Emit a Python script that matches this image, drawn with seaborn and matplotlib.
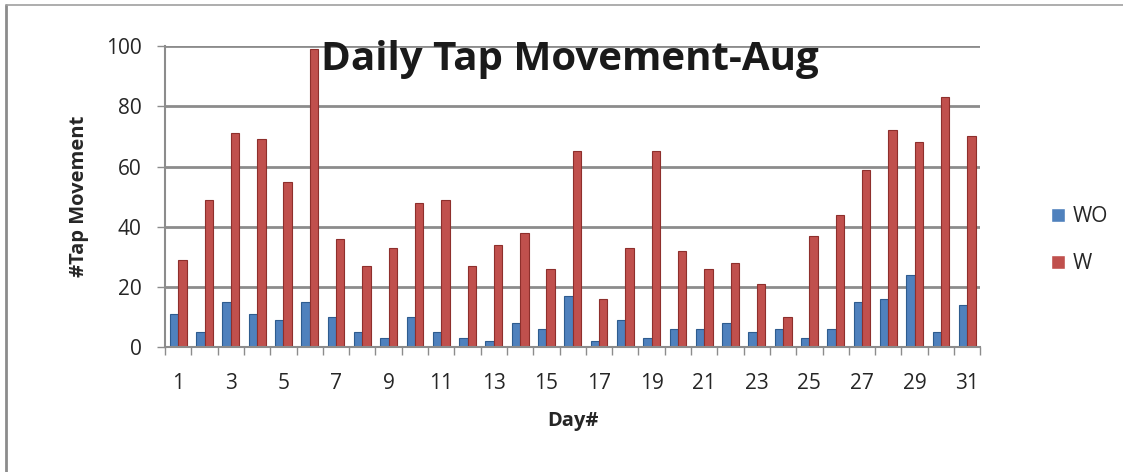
import matplotlib
matplotlib.use("Agg")
import matplotlib.pyplot as plt
from matplotlib.lines import Line2D
import seaborn as sns
import pandas as pd
import numpy as np

days = list(range(1, 32))
wo_values = [11, 5, 15, 11, 9, 15, 10, 5, 3, 10, 5, 3, 2, 8, 6, 17, 2, 9, 3, 6,
             6, 8, 5, 6, 3, 6, 15, 16, 24, 5, 14]
w_values = [29, 49, 71, 69, 55, 99, 36, 27, 33, 48, 49, 27, 34, 38, 26, 65, 16, 33, 65, 32,
            26, 28, 21, 10, 37, 44, 59, 72, 68, 83, 70]
series_names = ["WO", "W"]
y_ticks = [0, 20, 40, 60, 80, 100]

df = pd.DataFrame({
    "Day": days * 2,
    "Series": [series_names[0]] * len(days) + [series_names[1]] * len(days),
    "Value": wo_values + w_values,
})

sns.set_theme(style="white")
plt.rcParams["font.family"] = ["Open Sans", "DejaVu Sans"]

fig = plt.figure(figsize=(11.23, 4.72), dpi=100)
ax = fig.add_axes([0.147, 0.265, 0.726, 0.637])

palette = {"WO": "#4F81BD", "W": "#C0504D"}
sns.barplot(data=df, x="Day", y="Value", hue="Series", order=days,
            hue_order=series_names, palette=palette, width=0.64,
            saturation=1, ax=ax, errorbar=None, legend=True)

for patch, edge in zip(ax.patches, ["#2E5C8F"] * len(days) + ["#8E2F2C"] * len(days)):
    patch.set_edgecolor(edge)
    patch.set_linewidth(0.8)

ax.set_ylim(0, 100)
ax.set_xlim(-0.5, len(days) - 0.5)
ax.set_yticks(y_ticks)
ax.yaxis.grid(True, color="#8C8C8C", linewidth=2)
ax.set_axisbelow(True)

ax.set_xticks(range(0, len(days), 2))
ax.set_xticklabels([str(d) for d in days[::2]], fontsize=15)
ax.set_xticks(np.arange(-0.5, len(days), 1), minor=True)
ax.tick_params(axis="x", which="major", length=0, pad=19)
ax.tick_params(axis="x", which="minor", length=6, width=1, color="#8C8C8C", direction="out")
ax.tick_params(axis="y", length=6, width=1, color="#8C8C8C", direction="out", labelsize=15, pad=11)
ax.xaxis.set_ticks_position("bottom")
ax.yaxis.set_ticks_position("left")

for side in ["top", "right"]:
    ax.spines[side].set_visible(False)
for side in ["left", "bottom"]:
    ax.spines[side].set_color("#8C8C8C")
    ax.spines[side].set_linewidth(1.5)

ax.set_xlabel("Day#", fontsize=14.5, fontweight="bold", labelpad=12)
ax.set_ylabel("#Tap Movement", fontsize=14.5, fontweight="bold", labelpad=12)

ax.text(0.496, 0.955, "Daily Tap Movement-Aug", transform=ax.transAxes,
        ha="center", va="center", fontsize=29, fontweight="bold", color="#1A1A1A")

handles, labels = ax.get_legend_handles_labels()
ax.legend(handles, labels, loc="center left", bbox_to_anchor=(1.066, 0.355),
          frameon=False, fontsize=15, handlelength=0.7, handleheight=0.7,
          labelspacing=1.25, handletextpad=0.35, borderpad=0.3)

# Frame around the chart: top and left edges only
fig.lines.append(Line2D([0.005, 0.005], [0.0, 0.99], transform=fig.transFigure,
                        color="#8C8C8C", linewidth=2))
fig.lines.append(Line2D([0.005, 1.0], [0.99, 0.99], transform=fig.transFigure,
                        color="#A0A0A0", linewidth=1.2))

fig.savefig("out.png", dpi=100)
